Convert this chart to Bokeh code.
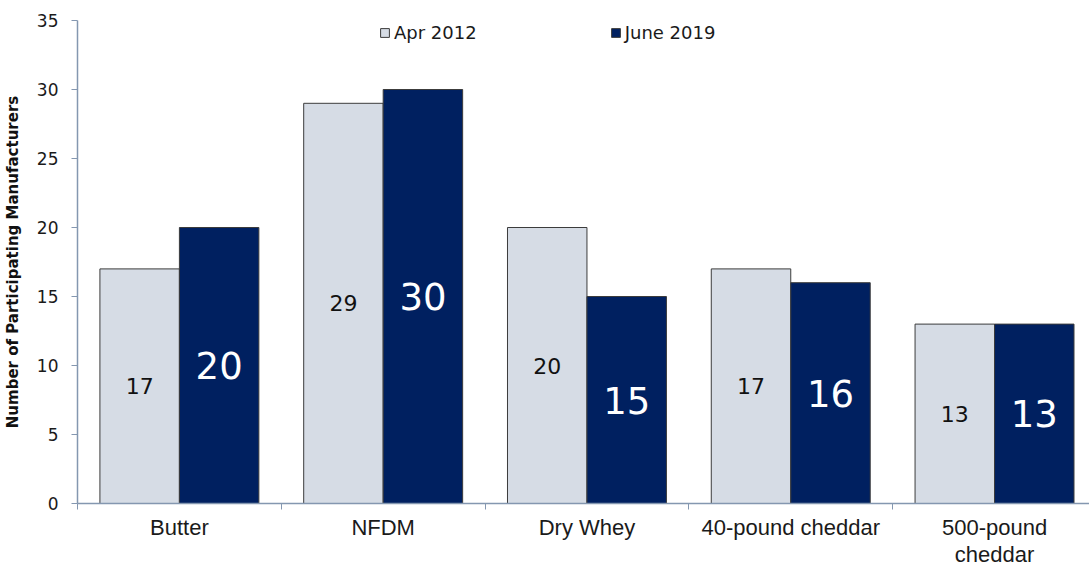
from bokeh.plotting import figure
from bokeh.models import Range1d, FixedTicker, Legend, LegendItem, ColumnDataSource
from bokeh.core.properties import value
from bokeh.embed import file_html
from bokeh.resources import INLINE

# Number of manufacturers reporting to the dairy product price survey
categories = ["Butter", "NFDM", "Dry Whey", "40-pound cheddar", "500-pound\ncheddar"]
apr_2012 = [17, 29, 20, 17, 13]
june_2019 = [20, 30, 15, 16, 13]
series_names = ["Apr 2012", "June 2019"]
y_ticks = [0, 5, 10, 15, 20, 25, 30, 35]

LIGHT = "#d6dce5"
DARK = "#002060"
AXIS = "#8497b0"
OUTLINE = "#3c3c3c"

n = len(categories)
idx = list(range(n))
bar_w = 0.39
x_light = [i + 0.5 - bar_w / 2 for i in idx]
x_dark = [i + 0.5 + bar_w / 2 for i in idx]

p = figure(
    width=1089, height=570,
    output_backend="svg", toolbar_location=None,
    x_range=Range1d(0, 4.966), y_range=Range1d(0, 35),
    min_border_left=76, min_border_right=0,
    min_border_top=20, min_border_bottom=67,
)
p.outline_line_color = None
p.xgrid.visible = False
p.ygrid.visible = False
p.background_fill_color = "white"
p.border_fill_color = "white"

src_l = ColumnDataSource(dict(x=x_light, top=apr_2012, mid=[v / 2 for v in apr_2012],
                              label=[str(v) for v in apr_2012]))
src_d = ColumnDataSource(dict(x=x_dark, top=june_2019, mid=[v / 2 for v in june_2019],
                              label=[str(v) for v in june_2019]))

r_l = p.vbar(x="x", top="top", bottom=0, width=bar_w, source=src_l,
             fill_color=LIGHT, line_color=OUTLINE, line_width=1)
r_d = p.vbar(x="x", top="top", bottom=0, width=bar_w, source=src_d,
             fill_color=DARK, line_color=OUTLINE, line_width=1)

p.text(x="x", y="mid", text="label", source=src_l,
       text_font=value("DejaVu Sans"), text_font_size="22px", text_color="#111111",
       text_align="center", text_baseline="middle")
p.text(x="x", y="mid", text="label", source=src_d,
       text_font=value("DejaVu Sans"), text_font_size="37px", text_color="white",
       text_align="center", text_baseline="middle")

# x axis: labels centred on each group, tick marks between groups
xa = p.xaxis[0]
xa.ticker = FixedTicker(ticks=[i + 0.5 for i in idx], minor_ticks=list(range(n + 1)))
xa.major_label_overrides = {i + 0.5: c for i, c in zip(idx, categories)}
xa.major_tick_line_color = None
xa.major_tick_in = 0
xa.major_tick_out = 6
xa.minor_tick_line_color = AXIS
xa.minor_tick_in = 0
xa.minor_tick_out = 6
xa.axis_line_color = AXIS
xa.axis_line_width = 1.5
xa.axis_label_standoff = 0
xa.major_label_standoff = 5
xa.major_label_text_font = "Liberation Sans"
xa.major_label_text_font_size = "22px"
xa.major_label_text_line_height = 1.1
xa.major_label_text_color = "#1a1a1a"

ya = p.yaxis[0]
ya.ticker = FixedTicker(ticks=y_ticks, minor_ticks=[])
ya.major_tick_in = 0
ya.major_tick_out = 6
ya.major_tick_line_color = AXIS
ya.axis_line_color = AXIS
ya.axis_line_width = 1.5
ya.major_label_standoff = 13
ya.major_label_text_font = "DejaVu Sans"
ya.major_label_text_font_size = "17px"
ya.major_label_text_color = "#1a1a1a"
ya.axis_label = "Number of Participating Manufacturers"
ya.axis_label_text_font = "DejaVu Sans"
ya.axis_label_text_font_style = "bold"
ya.axis_label_text_font_size = "15px"
ya.axis_label_text_color = "#111111"
ya.axis_label_standoff = 12

legend = Legend(
    items=[LegendItem(label=series_names[0], renderers=[r_l]),
           LegendItem(label=series_names[1], renderers=[r_d])],
    orientation="horizontal", location=(302, 460),
    glyph_width=11, glyph_height=11, label_standoff=4, spacing=133,
    padding=0, margin=0, border_line_color=None, background_fill_alpha=0,
    label_text_font="DejaVu Sans", label_text_font_size="18px",
    label_text_color="#1a1a1a", label_height=20,
)
p.add_layout(legend)

open("out.html", "w").write(file_html(p, INLINE))
